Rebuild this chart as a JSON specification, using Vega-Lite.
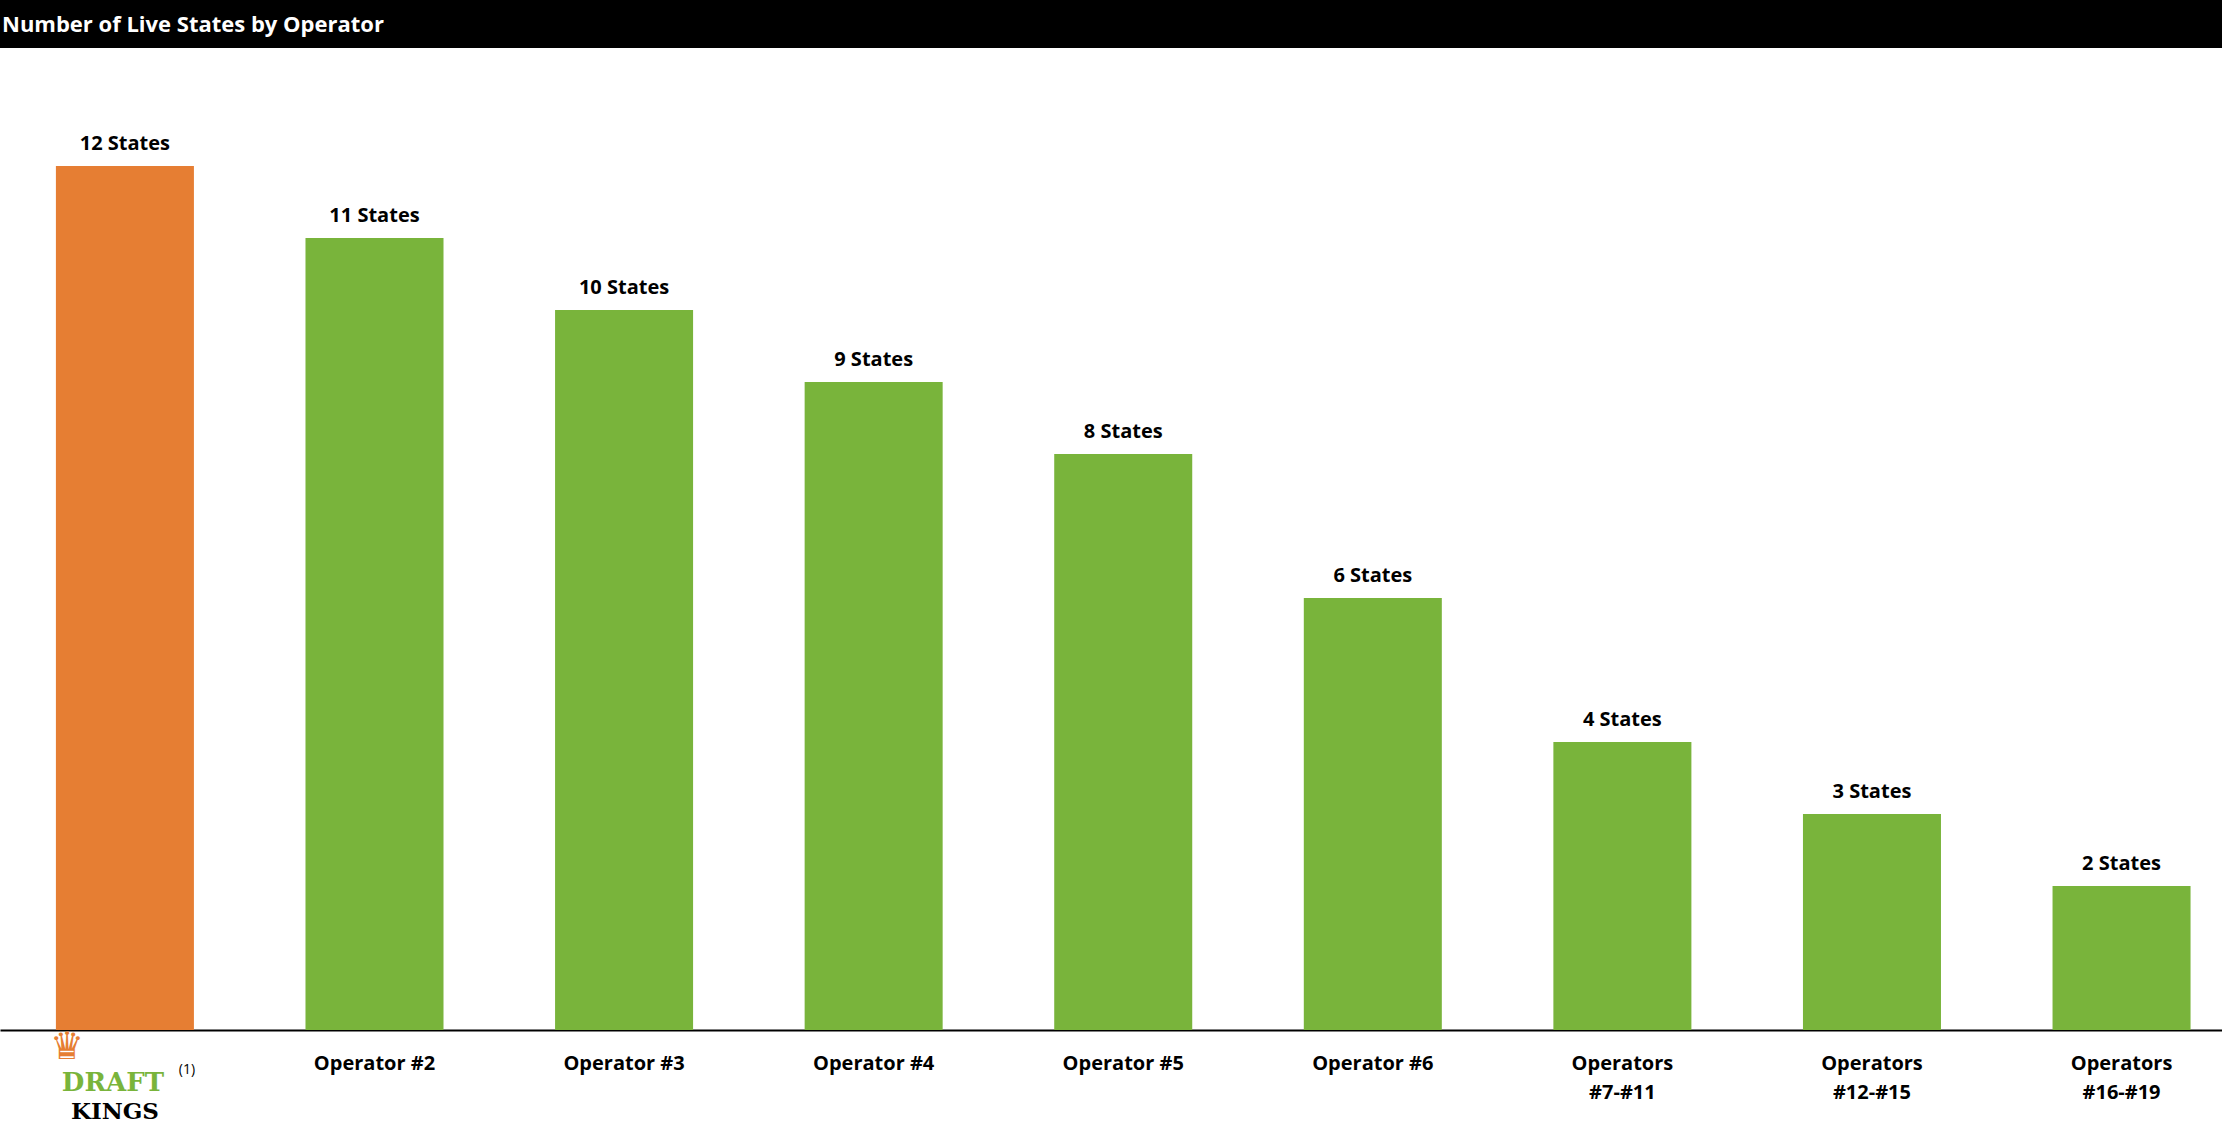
{
  "$schema": "https://vega.github.io/schema/vega-lite/v6.json",
  "padding": 0,
  "spacing": 0,
  "background": "white",
  "config": {"view": {"stroke": null}, "font": "Open Sans"},
  "vconcat": [
    {
      "width": 2222,
      "height": 48,
      "view": {"fill": "black", "stroke": null},
      "data": {"values": [{"t": "Number of Live States by Operator"}]},
      "mark": {"type": "text", "align": "left", "baseline": "middle", "dx": 2, "dy": 1, "color": "white", "fontSize": 22, "font": "Open Sans", "fontWeight": "bold"},
      "encoding": {
        "x": {"datum": 0, "type": "quantitative", "scale": {"domain": [0, 1]}, "axis": null},
        "text": {"field": "t"}
      }
    },
    {
      "width": 2222,
      "height": 982,
      "data": {"values": [
        {"operator": "DraftKings", "states": 12, "label": "12 States"},
        {"operator": "Operator #2", "states": 11, "label": "11 States"},
        {"operator": "Operator #3", "states": 10, "label": "10 States"},
        {"operator": "Operator #4", "states": 9, "label": "9 States"},
        {"operator": "Operator #5", "states": 8, "label": "8 States"},
        {"operator": "Operator #6", "states": 6, "label": "6 States"},
        {"operator": "Operators #7-#11", "states": 4, "label": "4 States"},
        {"operator": "Operators #12-#15", "states": 3, "label": "3 States"},
        {"operator": "Operators #16-#19", "states": 2, "label": "2 States"}
      ]},
      "encoding": {
        "x": {"field": "operator", "type": "nominal", "sort": null,
          "scale": {"paddingInner": 0.447, "paddingOuter": 0.175, "align": 0.64},
          "axis": {"title": null, "ticks": false, "labelAngle": 0, "labelPadding": 23, "labelFontSize": 20, "labelFontWeight": "bold", "labelColor": "black", "labelFont": "Open Sans", "labelLineHeight": 29, "domainColor": "black", "domainWidth": 2, "labelExpr": "datum.value === 'DraftKings' ? '' : (indexof(datum.value, 'Operators') === 0 ? ['Operators', substring(datum.value, 10)] : datum.value)"}}
      },
      "layer": [
        {
          "mark": {"type": "bar"},
          "encoding": {
            "y": {"field": "states", "type": "quantitative", "scale": {"domain": [0, 13.64], "nice": false}, "axis": null},
            "color": {"field": "operator", "type": "nominal", "legend": null,
              "scale": {"domain": ["DraftKings", "Operator #2", "Operator #3", "Operator #4", "Operator #5", "Operator #6", "Operators #7-#11", "Operators #12-#15", "Operators #16-#19"],
                        "range": ["#E67E33", "#79B43B", "#79B43B", "#79B43B", "#79B43B", "#79B43B", "#79B43B", "#79B43B", "#79B43B"]}}
          }
        },
        {
          "mark": {"type": "text", "baseline": "alphabetic", "dy": -16, "fontSize": 20, "fontWeight": "bold", "color": "black", "font": "Open Sans"},
          "encoding": {
            "y": {"field": "states", "type": "quantitative"},
            "text": {"field": "label"}
          }
        },
        {
          "data": {"values": [{"t": "♛"}]},
          "mark": {"type": "text", "baseline": "middle", "align": "center", "dx": -58, "fontSize": 38, "color": "#E67E33", "font": "DejaVu Sans"},
          "encoding": {"x": {"datum": "DraftKings"}, "y": {"datum": -0.25}, "text": {"field": "t"}}
        },
        {
          "data": {"values": [{"t": "DRAFT"}]},
          "mark": {"type": "text", "baseline": "middle", "align": "center", "dx": -12, "fontSize": 26, "fontWeight": "bold", "color": "#79B43B", "font": "DejaVu Serif"},
          "encoding": {"x": {"datum": "DraftKings"}, "y": {"datum": -0.73}, "text": {"field": "t"}}
        },
        {
          "data": {"values": [{"t": "KINGS"}]},
          "mark": {"type": "text", "baseline": "middle", "align": "center", "dx": -10, "fontSize": 23, "fontWeight": "bold", "color": "black", "font": "DejaVu Serif"},
          "encoding": {"x": {"datum": "DraftKings"}, "y": {"datum": -1.14}, "text": {"field": "t"}}
        },
        {
          "data": {"values": [{"t": "(1)"}]},
          "mark": {"type": "text", "baseline": "middle", "align": "center", "dx": 62, "fontSize": 14, "color": "black", "font": "Open Sans"},
          "encoding": {"x": {"datum": "DraftKings"}, "y": {"datum": -0.56}, "text": {"field": "t"}}
        }
      ]
    }
  ]
}
